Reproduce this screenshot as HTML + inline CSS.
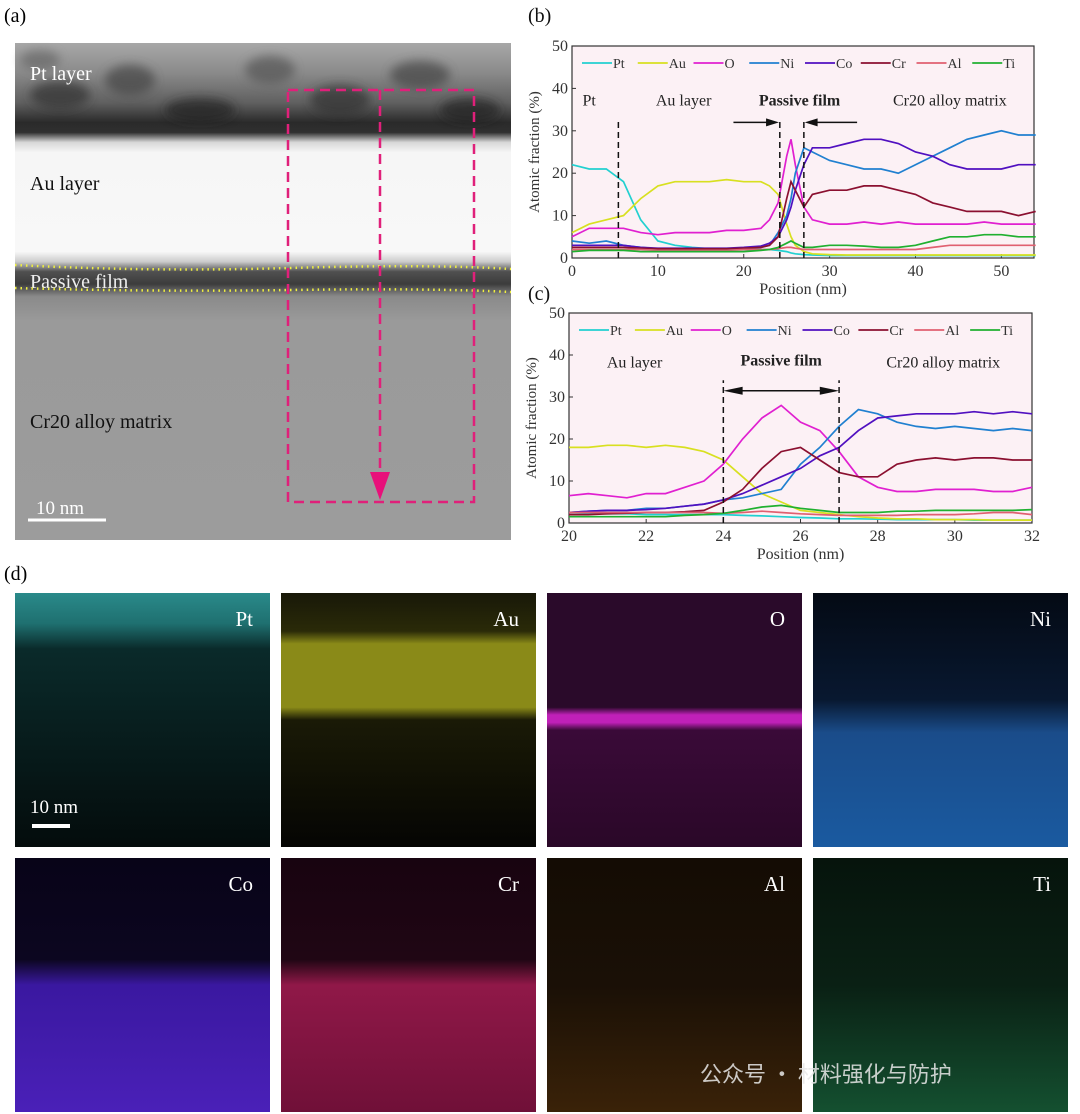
<!DOCTYPE html>
<html><head><meta charset="utf-8"><style>
html,body{margin:0;padding:0;background:#fff;}
svg{display:block;font-family:"Liberation Serif","Noto Serif CJK SC",serif;}
</style></head><body>
<svg id="fig" width="1080" height="1114" viewBox="0 0 1080 1114" xmlns="http://www.w3.org/2000/svg">
<defs>
<linearGradient id="gA" x1="0" y1="0" x2="0" y2="1">
<stop offset="0" stop-color="#a8a8a8"/><stop offset="0.06" stop-color="#8a8a8a"/><stop offset="0.12" stop-color="#606060"/><stop offset="0.16" stop-color="#2a2a2a"/><stop offset="0.18" stop-color="#303030"/><stop offset="0.2" stop-color="#d8d8d8"/><stop offset="0.22" stop-color="#f6f6f6"/><stop offset="0.42" stop-color="#f8f8f8"/><stop offset="0.44" stop-color="#cccccc"/><stop offset="0.46" stop-color="#505050"/><stop offset="0.485" stop-color="#3c3c3c"/><stop offset="0.51" stop-color="#8a8a8a"/><stop offset="0.56" stop-color="#9a9a9a"/><stop offset="1" stop-color="#9c9c9c"/>
</linearGradient>
<linearGradient id="gPt" x1="0" y1="0" x2="0" y2="1"><stop offset="0" stop-color="#2a8a8a"/><stop offset="0.12" stop-color="#1f7070"/><stop offset="0.22" stop-color="#0a2a2a"/><stop offset="1" stop-color="#040c0c"/></linearGradient>
<linearGradient id="gAu" x1="0" y1="0" x2="0" y2="1"><stop offset="0" stop-color="#181808"/><stop offset="0.15" stop-color="#2a2a08"/><stop offset="0.2" stop-color="#8a8a18"/><stop offset="0.45" stop-color="#8a8a18"/><stop offset="0.5" stop-color="#1a1a06"/><stop offset="1" stop-color="#050503"/></linearGradient>
<linearGradient id="gO" x1="0" y1="0" x2="0" y2="1"><stop offset="0" stop-color="#2a0a2a"/><stop offset="0.45" stop-color="#2a0a2a"/><stop offset="0.48" stop-color="#c020b8"/><stop offset="0.51" stop-color="#c020b8"/><stop offset="0.54" stop-color="#3a0a38"/><stop offset="1" stop-color="#2a0828"/></linearGradient>
<linearGradient id="gNi" x1="0" y1="0" x2="0" y2="1"><stop offset="0" stop-color="#040a14"/><stop offset="0.42" stop-color="#081830"/><stop offset="0.55" stop-color="#1a4c8a"/><stop offset="1" stop-color="#1a5aa0"/></linearGradient>
<linearGradient id="gCo" x1="0" y1="0" x2="0" y2="1"><stop offset="0" stop-color="#080418"/><stop offset="0.4" stop-color="#0c0620"/><stop offset="0.5" stop-color="#3a18a0"/><stop offset="1" stop-color="#4a20b8"/></linearGradient>
<linearGradient id="gCr" x1="0" y1="0" x2="0" y2="1"><stop offset="0" stop-color="#180410"/><stop offset="0.4" stop-color="#200614"/><stop offset="0.5" stop-color="#901848"/><stop offset="1" stop-color="#701038"/></linearGradient>
<linearGradient id="gAl" x1="0" y1="0" x2="0" y2="1"><stop offset="0" stop-color="#140c04"/><stop offset="0.5" stop-color="#1a1006"/><stop offset="1" stop-color="#3a2208"/></linearGradient>
<linearGradient id="gTi" x1="0" y1="0" x2="0" y2="1"><stop offset="0" stop-color="#06140c"/><stop offset="0.5" stop-color="#0a2014"/><stop offset="1" stop-color="#145030"/></linearGradient>
<filter id="blur"><feGaussianBlur stdDeviation="5"/></filter>
</defs>

<!-- Panel (a) -->
<text x="4" y="22" font-size="20">(a)</text>
<rect x="15" y="43" width="496" height="497" fill="url(#gA)"/>
<g filter="url(#blur)" opacity="0.7">
<ellipse cx="60" cy="95" rx="30" ry="14" fill="#333"/><ellipse cx="130" cy="80" rx="25" ry="15" fill="#444"/>
<ellipse cx="200" cy="110" rx="35" ry="12" fill="#222"/><ellipse cx="270" cy="70" rx="25" ry="14" fill="#555"/>
<ellipse cx="340" cy="100" rx="30" ry="15" fill="#333"/><ellipse cx="420" cy="75" rx="30" ry="14" fill="#444"/>
<ellipse cx="470" cy="110" rx="30" ry="12" fill="#222"/><ellipse cx="40" cy="60" rx="20" ry="10" fill="#666"/>
</g>
<text x="30" y="80" font-size="20" fill="#fff">Pt layer</text>
<text x="30" y="190" font-size="20" fill="#111">Au layer</text>
<text x="30" y="288" font-size="20" fill="#eee">Passive film</text>
<text x="30" y="428" font-size="20" fill="#111">Cr20 alloy matrix</text>
<path d="M15,265 Q150,272 290,268 T511,269" stroke="#f0f040" stroke-width="2.5" stroke-dasharray="1.5,4" fill="none"/>
<path d="M15,288 Q150,292 290,290 T511,292" stroke="#f0f040" stroke-width="2.5" stroke-dasharray="1.5,4" fill="none"/>
<rect x="288" y="90" width="186" height="412" fill="none" stroke="#e0207a" stroke-width="2.5" stroke-dasharray="10,6"/>
<line x1="380" y1="90" x2="380" y2="480" stroke="#e0207a" stroke-width="2.5" stroke-dasharray="10,6"/>
<polygon points="370,472 390,472 380,500" fill="#e8107a"/>
<line x1="28" y1="520" x2="106" y2="520" stroke="#fff" stroke-width="3"/>
<text x="36" y="514" font-size="19" fill="#fff">10 nm</text>

<!-- Charts -->
<g id="chartB"></g>
<g id="chartC"></g>

<!-- Panel (d) -->
<text x="4" y="580" font-size="20">(d)</text>
<g id="maps"></g>
<text x="700" y="1082" font-size="22" fill="#e8e8e8" opacity="0.85" font-family="'Noto Sans CJK SC',sans-serif">公众号 · 材料强化与防护</text>
</svg>
<script>
const elements = ['Pt','Au','O','Ni','Co','Cr','Al','Ti'];
const colors = ['#22d0d0','#d8e020','#e020d0','#2080d0','#5010c0','#8b1030','#e06070','#20b030'];

const xB = [0,2,4,6,8,10,12,14,16,18,20,22,23,24,25,25.5,26,27,28,30,32,34,36,38,40,42,44,46,48,50,52,54];
const bPt = [22,21,21,18,9,4,3,2.5,2.2,2,2,2,2,1.8,1.5,1.2,1,0.8,0.7,0.6,0.6,0.6,0.6,0.6,0.6,0.6,0.6,0.6,0.6,0.6,0.6,0.6];
const bAu = [6,8,9,10,14,17,18,18,18,18.5,18,18,17,15,8,5,3,1.5,1,0.8,0.7,0.7,0.7,0.7,0.7,0.7,0.7,0.7,0.7,0.7,0.7,0.7];
const bO  = [5,7,7,7,6,5.5,6,6,6,6.5,6.5,7,9,13,24,28,22,12,9,8,8,8.5,8,8.5,8,8,8,8,8.5,8,8,8];
const bNi = [4,3.5,4,3,2.5,2.2,2,2,2,2,2.2,2.5,3,6,10,14,20,26,25,23,22,21,21,20,22,24,26,28,29,30,29,29];
const bCo = [3,3,3,3,2.5,2.3,2.3,2.3,2.3,2.3,2.5,2.8,3.5,5,9,12,16,22,26,26,27,28,28,27,25,24,22,21,21,21,22,22];
const bCr = [2.5,2.5,2.5,2.5,2.3,2.2,2.2,2.2,2.2,2.2,2.3,2.5,3,5,14,18,16,12,15,16,16,17,17,16,15,13,12,11,11,11,10,11];
const bAl = [2,2,2,2,2,1.8,1.8,1.8,1.8,1.8,2,2,2,2.2,2.5,2.5,2.3,2,2,2,2,2,2,2,2,2.5,3,3,3,3,3,3];
const bTi = [1.5,1.8,1.8,1.8,1.5,1.5,1.5,1.5,1.5,1.5,1.5,1.8,2,2.5,3.5,4,3.5,2.5,2.5,3,3,2.8,2.5,2.5,3,4,5,5,5.5,5.5,5,5];
const bTicks = [0,10,20,30,40,50];

const xC = [20,20.5,21,21.5,22,22.5,23,23.5,24,24.5,25,25.5,26,26.5,27,27.5,28,28.5,29,29.5,30,30.5,31,31.5,32];
const cPt = [2.5,2.3,2.2,2.2,2,2,2,2,2,1.8,1.7,1.5,1.3,1.2,1,1,0.9,0.8,0.8,0.8,0.8,0.7,0.7,0.7,0.7];
const cAu = [18,18,18.5,18.5,18,18.5,18,17,15,11,7,5,3,2.5,2,1.5,1.2,1,1,0.8,0.8,0.8,0.7,0.7,0.7];
const cO  = [6.5,7,6.5,6,7,7,8.5,10,14,20,25,28,24,22,17,11,8.5,7.5,7.5,8,8,8,7.5,7.5,8.5];
const cNi = [2.5,2.8,3,3,3.5,3.5,4,4.5,5.5,6,7,8,14,18,23,27,26,24,23,22.5,23,22.5,22,22.5,22];
const cCo = [2.5,2.8,3,3,3.2,3.5,4,4.5,5.5,7,9,11,13,16,18,22,25,25.5,26,26,26,26.5,26,26.5,26];
const cCr = [2,2,2.2,2.3,2.5,2.5,2.7,3,5,8,13,17,18,15,12,11,11,14,15,15.5,15,15.5,15.5,15,15];
const cAl = [2.5,2.5,2.5,2.5,2.5,2.5,2.5,2.5,2.3,2.5,2.8,2.5,2.2,2,1.8,1.8,1.8,1.8,2,2,2,2.2,2.5,2.5,2];
const cTi = [1.5,1.5,1.5,1.5,1.5,1.5,1.8,2,2.3,3,3.8,4.2,3.5,3,2.5,2.5,2.5,2.8,2.8,3,3,3,3,3,3.2];
const cTicks = [20,22,24,26,28,30,32];
const yTicks = [0,10,20,30,40,50];

const NS='http://www.w3.org/2000/svg';
function mk(parent, tag, attrs, text){
  const e=document.createElementNS(NS,tag);
  for(const k in attrs) e.setAttribute(k,attrs[k]);
  if(text!==undefined) e.textContent=text;
  parent.appendChild(e); return e;
}

function drawChart(g, o){
  const sx = v => o.x0 + (v-o.xmin)/(o.xmax-o.xmin)*(o.x1-o.x0);
  const sy = v => o.y0 - v/50*(o.y0-o.y1);
  const bg = mk(g,'rect',{x:o.x0,y:o.y1,width:o.x1-o.x0,height:o.y0-o.y1,fill:'#fcf1f5',stroke:'#333','stroke-width':1.2});
  
  
  yTicks.forEach(t=>{
    mk(g,'line',{x1:o.x0,x2:o.x0+4,y1:sy(t),y2:sy(t),stroke:'#333'});
    const tl = mk(g,'text',{x:o.x0-4,y:sy(t)+5,'font-size':16,'text-anchor':'end',fill:'#333'},String(t));
    
    
  });
  o.ticks.forEach(t=>{
    mk(g,'line',{x1:sx(t),x2:sx(t),y1:o.y0,y2:o.y0-4,stroke:'#333'});
    const tl = mk(g,'text',{x:sx(t),y:o.y0+18,'font-size':16,'text-anchor':'middle',fill:'#333'},String(t));
    
    
  });
  const xt = mk(g,'text',{x:(o.x0+o.x1)/2,y:o.y0+36,'font-size':16,'text-anchor':'middle',fill:'#333'},'Position (nm)');
  
  
  const yt = mk(g,'text',{x:0,y:0,'font-size':15,'text-anchor':'middle',fill:'#333',transform:`translate(${o.x0-33},${(o.y0+o.y1)/2}) rotate(-90)`},'Atomic fraction (%)');
  
  
  o.series.forEach((s,i)=>{
    const d = s.map((v,j)=>(j?'L':'M')+sx(o.xs[j]).toFixed(1)+','+sy(v).toFixed(1)).join(' ');
    const p = mk(g,'path',{d:d,fill:'none',stroke:colors[i],'stroke-width':1.7});
    
    
  });
  const lw=(o.x1-o.x0-16)/8;
  elements.forEach((el,i)=>{
    const lx=o.x0+10+i*lw, ly=o.y1+17;
    const le = mk(g,'g',{});
    
    
    mk(le,'line',{x1:lx,x2:lx+30,y1:ly,y2:ly,stroke:colors[i],'stroke-width':1.8});
    mk(le,'text',{x:lx+31,y:ly+5,'font-size':14,fill:'#333'},el);
  });
  o.vlines.forEach(v=>{
    const vl = mk(g,'line',{x1:sx(v),x2:sx(v),y1:o.y0,y2:sy(o.vtop),stroke:'#111','stroke-width':1.5,'stroke-dasharray':'6,4'});
    
    
  });
  o.labels.forEach(l=>{
    const t = mk(g,'text',{x:sx(l[0]),y:sy(l[1]),'font-size':16,'text-anchor':'middle',fill:'#222','font-weight':l[2]?'bold':'normal'},l[3]);
    
    
  });
  return {sx,sy};
}

const B = drawChart(document.getElementById('chartB'),{x0:572,x1:1034,y0:258,y1:46,xmin:0,xmax:53.8,xs:xB,ticks:bTicks,
  series:[bPt,bAu,bO,bNi,bCo,bCr,bAl,bTi],vlines:[5.4,24.2,27],vtop:33,
  labels:[[2,36,false,'Pt'],[13,36,false,'Au layer'],[26.5,36,true,'Passive film'],[44,36,false,'Cr20 alloy matrix']]});
const gb=document.getElementById('chartB');
mk(gb,'line',{x1:B.sx(18.8),x2:B.sx(23.5),y1:B.sy(32),y2:B.sy(32),stroke:'#111','stroke-width':1.5});
mk(gb,'polygon',{points:`${B.sx(24.1)},${B.sy(32)} ${B.sx(22.6)},${B.sy(32)-4} ${B.sx(22.6)},${B.sy(32)+4}`,fill:'#111'});
mk(gb,'line',{x1:B.sx(27.7),x2:B.sx(33.2),y1:B.sy(32),y2:B.sy(32),stroke:'#111','stroke-width':1.5});
mk(gb,'polygon',{points:`${B.sx(27.1)},${B.sy(32)} ${B.sx(28.6)},${B.sy(32)-4} ${B.sx(28.6)},${B.sy(32)+4}`,fill:'#111'});
mk(gb,'text',{x:528,y:22,'font-size':20,fill:'#111'},'(b)');

const C = drawChart(document.getElementById('chartC'),{x0:569,x1:1032,y0:523,y1:313,xmin:20,xmax:32,xs:xC,ticks:cTicks,
  series:[cPt,cAu,cO,cNi,cCo,cCr,cAl,cTi],vlines:[24,27],vtop:34,
  labels:[[21.7,37,false,'Au layer'],[25.5,37.5,true,'Passive film'],[29.7,37,false,'Cr20 alloy matrix']]});
const gc=document.getElementById('chartC');
mk(gc,'line',{x1:C.sx(24.4),x2:C.sx(26.6),y1:C.sy(31.5),y2:C.sy(31.5),stroke:'#111','stroke-width':1.5});
mk(gc,'polygon',{points:`${C.sx(24)},${C.sy(31.5)} ${C.sx(24.5)},${C.sy(31.5)-4} ${C.sx(24.5)},${C.sy(31.5)+4}`,fill:'#111'});
mk(gc,'polygon',{points:`${C.sx(27)},${C.sy(31.5)} ${C.sx(26.5)},${C.sy(31.5)-4} ${C.sx(26.5)},${C.sy(31.5)+4}`,fill:'#111'});
mk(gc,'text',{x:528,y:300,'font-size':20,fill:'#111'},'(c)');

const maps=document.getElementById('maps');
const mapX=[15,281,547,813], mapY=[593,858];
const grads=['gPt','gAu','gO','gNi','gCo','gCr','gAl','gTi'];
elements.forEach((el,i)=>{
  const x=mapX[i%4], y=mapY[Math.floor(i/4)];
  const tile=mk(maps,'g',{});
  
  
  mk(tile,'rect',{x:x,y:y,width:255,height:254,fill:'url(#'+grads[i]+')'});
  mk(tile,'text',{x:x+238,y:y+33,'font-size':21,fill:'#fff','text-anchor':'end'},el);
});
mk(maps,'line',{x1:32,x2:70,y1:826,y2:826,stroke:'#fff','stroke-width':4});
mk(maps,'text',{x:30,y:813,'font-size':19,fill:'#fff'},'10 nm');
</script>
</body></html>
